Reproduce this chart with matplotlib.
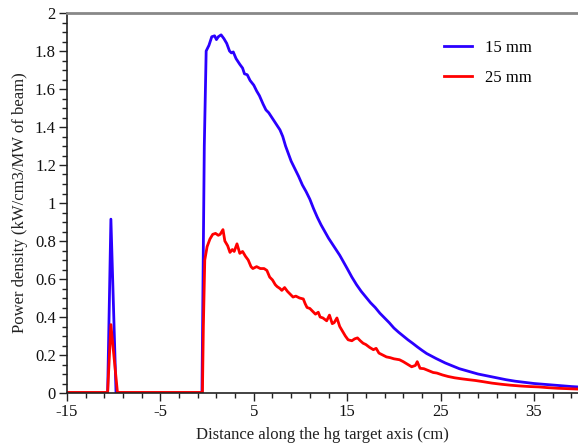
import matplotlib
matplotlib.use("Agg")
import matplotlib.pyplot as plt
from matplotlib.ticker import MultipleLocator, FixedLocator

plt.rcParams['font.family'] = ['Liberation Serif', 'DejaVu Serif']
plt.rcParams['axes.unicode_minus'] = False

blue_x = [-15, -10.65, -10.3, -9.75, -0.55, -0.3, -0.1, 0.2, 0.5, 0.8, 1.0, 1.2, 1.5, 1.8, 2.1,
          2.4, 2.6, 2.8, 3.1, 3.5, 3.8, 4.0, 4.3, 4.6, 5.0, 5.3, 5.6, 6.0, 6.3, 6.6, 7.0, 7.4,
          7.8, 8.1, 8.4, 8.7, 9.0, 9.4, 9.8, 10.2, 10.6, 11.0, 11.4, 11.8, 12.2, 12.6, 13.0,
          13.4, 13.8, 14.2, 14.6, 15.0, 15.5, 16.0, 16.5, 17.0, 17.5, 18.0, 18.5, 19.0, 19.5,
          20.0, 20.5, 21.0, 21.5, 22.0, 22.5, 23.0, 23.5, 24.0, 24.5, 25.0, 25.5, 26.0, 26.5,
          27.0, 28.0, 29.0, 30.0, 31.0, 32.0, 33.0, 34.0, 35.0, 36.0, 37.0, 38.0, 39.0, 40.0]
blue_y = [0, 0, 0.915, 0, 0, 1.3, 1.80, 1.83, 1.875, 1.88, 1.86, 1.875, 1.885, 1.865, 1.84,
          1.80, 1.79, 1.795, 1.76, 1.73, 1.71, 1.68, 1.675, 1.645, 1.62, 1.59, 1.565, 1.52,
          1.49, 1.475, 1.445, 1.415, 1.385, 1.35, 1.30, 1.26, 1.22, 1.18, 1.14, 1.095, 1.06,
          1.02, 0.97, 0.925, 0.885, 0.85, 0.815, 0.785, 0.755, 0.725, 0.69, 0.655, 0.61, 0.57,
          0.535, 0.505, 0.475, 0.45, 0.42, 0.395, 0.37, 0.342, 0.32, 0.30, 0.28, 0.262, 0.243,
          0.225, 0.208, 0.195, 0.182, 0.17, 0.158, 0.148, 0.138, 0.128, 0.114, 0.10, 0.09,
          0.08, 0.07, 0.062, 0.056, 0.05, 0.046, 0.042, 0.038, 0.034, 0.031]

red_x = [-15, -10.65, -10.3, -9.6, -0.5, -0.4, -0.25, 0.0, 0.3, 0.6, 0.9, 1.2, 1.4, 1.7, 1.9,
         2.2, 2.45, 2.7, 2.9, 3.2, 3.5, 3.8, 4.1, 4.4, 4.7, 4.9, 5.3, 5.7, 6.1, 6.4, 6.7, 7.0,
         7.3, 7.5, 7.8, 8.0, 8.3, 8.6, 8.9, 9.2, 9.5, 9.9, 10.3, 10.5, 10.7, 11.0, 11.3, 11.6,
         11.9, 12.1, 12.4, 12.8, 13.1, 13.4, 13.6, 13.9, 14.2, 14.5, 14.8, 15.1, 15.5, 15.8,
         16.1, 16.4, 16.7, 17.0, 17.4, 17.8, 18.1, 18.4, 18.8, 19.2, 19.6, 20.0, 20.6, 21.0,
         21.5, 21.9, 22.3, 22.5, 22.8, 23.2, 23.7, 24.2, 24.6, 25.2, 25.8, 26.5, 27.2, 28.0,
         28.7, 29.5, 30.5, 31.5, 32.5, 33.5, 34.5, 35.5, 36.5, 37.5, 38.5, 39.5, 40.0]
red_y = [0.003, 0.003, 0.36, 0.003, 0.003, 0.35, 0.70, 0.77, 0.81, 0.835, 0.84, 0.83, 0.835,
         0.86, 0.80, 0.775, 0.74, 0.755, 0.745, 0.785, 0.735, 0.745, 0.72, 0.70, 0.665, 0.655,
         0.665, 0.655, 0.655, 0.645, 0.61, 0.595, 0.57, 0.56, 0.55, 0.54, 0.555, 0.535, 0.52,
         0.505, 0.51, 0.50, 0.495, 0.47, 0.45, 0.445, 0.43, 0.415, 0.425, 0.40, 0.395, 0.38,
         0.41, 0.365, 0.37, 0.395, 0.35, 0.325, 0.30, 0.28, 0.275, 0.285, 0.29, 0.275, 0.262,
         0.255, 0.24, 0.228, 0.235, 0.21, 0.20, 0.19, 0.186, 0.18, 0.175, 0.165, 0.15, 0.138,
         0.145, 0.165, 0.13, 0.128, 0.118, 0.108, 0.105, 0.095, 0.087, 0.08, 0.075, 0.07,
         0.066, 0.06, 0.052, 0.046, 0.041, 0.037, 0.034, 0.032, 0.028, 0.025, 0.023, 0.021, 0.02]

series_labels = ["15 mm", "25 mm"]
x_tick_vals = [-15, -5, 5, 15, 25, 35]
y_tick_vals = [0, 0.2, 0.4, 0.6, 0.8, 1, 1.2, 1.4, 1.6, 1.8, 2]
y_tick_labels = ["0", "0.2", "0.4", "0.6", "0.8", "1", "1.2", "1.4", "1.6", "1.8", "2"]

W, H = 578, 447
fig = plt.figure(figsize=(W / 100, H / 100), dpi=100)
ax = fig.add_axes([67 / W, 54 / H, 511 / W, 380 / H])

ax.plot(blue_x, blue_y, color='#2a00ff', lw=2.0, label=series_labels[0], solid_joinstyle='round')
ax.plot(red_x, red_y, color='#ff0000', lw=2.0, label=series_labels[1], solid_joinstyle='round')

ax.set_xlim(-15, -15 + 511 / 9.34)
ax.set_ylim(0, 2)

ax.xaxis.set_major_locator(FixedLocator(x_tick_vals))
ax.xaxis.set_minor_locator(MultipleLocator(2, offset=1))
ax.yaxis.set_major_locator(FixedLocator(y_tick_vals))
ax.set_yticklabels(y_tick_labels)
ax.yaxis.set_minor_locator(MultipleLocator(0.05))

ax.tick_params(which='major', direction='out', length=6, width=1, labelsize=12, pad=2,
               colors='#222222', labelcolor='#111111')
ax.tick_params(which='minor', direction='out', length=3.5, width=1, colors='#222222')

ax.spines['right'].set_visible(False)
ax.spines['top'].set_color('#888888')
ax.spines['top'].set_linewidth(2)
ax.spines['left'].set_color('#222222')
ax.spines['bottom'].set_color('#222222')
ax.spines['left'].set_linewidth(1.2)
ax.spines['bottom'].set_linewidth(1.2)

ax.set_xlabel("Distance along the hg target axis (cm)", fontsize=12, color='#222222', labelpad=5)
ax.set_ylabel("Power density (kW/cm3/MW of beam)", fontsize=12, color='#222222', labelpad=5)

ax.legend(loc='upper left', bbox_to_anchor=(0.737, 0.93), frameon=False, fontsize=12,
          handlelength=1.7, handletextpad=0.8, labelspacing=0.85, borderpad=0, borderaxespad=0)

fig.savefig("out.png", dpi=100)
